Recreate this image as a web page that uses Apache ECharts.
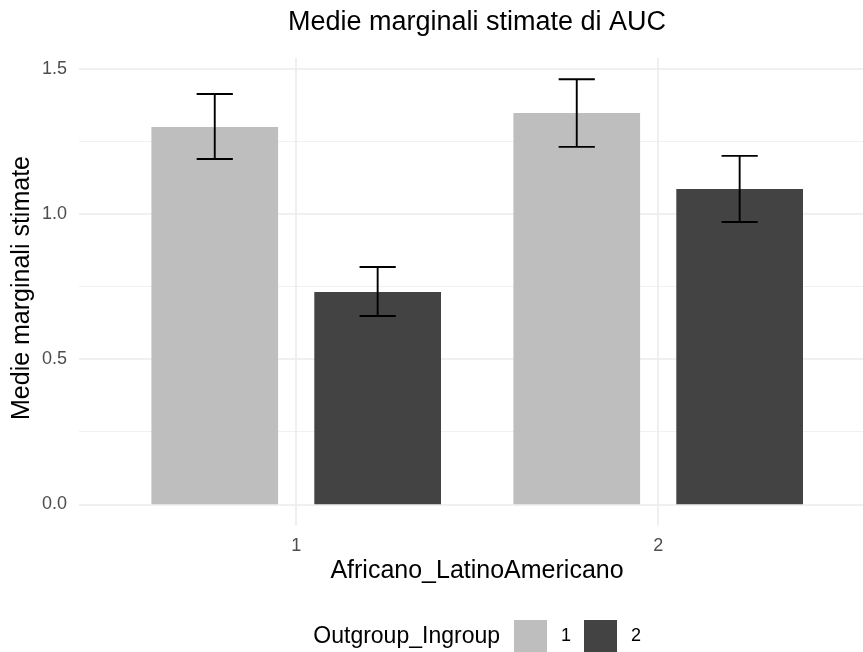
<!DOCTYPE html>
<html>
<head>
<meta charset="utf-8">
<script src="https://cdn.jsdelivr.net/npm/echarts@6/dist/echarts.min.js"></script>
<style>
  html, body { margin: 0; padding: 0; background: #ffffff; }
  #chart { width: 863px; height: 652px; }
</style>
</head>
<body>
<div id="chart"></div>
<script>
// Estimated marginal means of AUC by group, with confidence intervals
const groups = [1, 2];                       // Africano_LatinoAmericano levels
const levels = ['1', '2'];                   // Outgroup_Ingroup levels
const meansLevel1 = [1.300, 1.349];
const meansLevel2 = [0.732, 1.087];
const lowerLevel1 = [1.190, 1.232];
const lowerLevel2 = [0.649, 0.973];
const upperLevel1 = [1.414, 1.465];
const upperLevel2 = [0.818, 1.201];
const yMajorTicks = [0, 0.5, 1, 1.5];
const yMinorTicks = [0.25, 0.75, 1.25];

const FONT = 'Liberation Sans, Arial, Helvetica, sans-serif';
const fills = ['#BEBEBE', '#434343'];
const dodge = [-0.225, 0.225];
const barWidth = 0.35;
const capWidth = 0.1;

// panel geometry: discrete x range 0.4 .. 2.6, right part runs past the canvas edge
const gridLeft = 79;
const gridWidth = 784;
const unitPx = 362;
const xMin = 0.4;
const xMax = xMin + gridWidth / unitPx;

// y range padded like ggplot's default 5% expansion
const yHi = Math.max(...upperLevel1, ...upperLevel2);
const yPad = yHi * 0.05;

function rows(means, lo, hi) {
  return groups.map((g, i) => [g, means[i], lo[i], hi[i]]);
}

function makeSeries(name, idx, data) {
  return {
    name: name,
    type: 'custom',
    itemStyle: { color: fills[idx] },
    data: data,
    encode: { x: 0, y: [1, 2, 3] },
    renderItem: function (params, api) {
      const x = api.value(0) + dodge[idx];
      const v = api.value(1);
      const lo = api.value(2);
      const hi = api.value(3);
      const pTopLeft = api.coord([x - barWidth / 2, v]);
      const pBotRight = api.coord([x + barWidth / 2, 0]);
      const pHi = api.coord([x, hi]);
      const pLo = api.coord([x, lo]);
      const capL = api.coord([x - capWidth / 2, hi])[0];
      const capR = api.coord([x + capWidth / 2, hi])[0];
      const line = { stroke: '#000000', lineWidth: 1.9 };
      return {
        type: 'group',
        children: [
          {
            type: 'rect',
            shape: {
              x: pTopLeft[0], y: pTopLeft[1],
              width: pBotRight[0] - pTopLeft[0],
              height: pBotRight[1] - pTopLeft[1]
            },
            style: { fill: fills[idx] }
          },
          { type: 'line', shape: { x1: pHi[0], y1: pHi[1], x2: pLo[0], y2: pLo[1] }, style: line },
          { type: 'line', shape: { x1: capL, y1: pHi[1], x2: capR, y2: pHi[1] }, style: line },
          { type: 'line', shape: { x1: capL, y1: pLo[1], x2: capR, y2: pLo[1] }, style: line }
        ]
      };
    }
  };
}

const chart = echarts.init(document.getElementById('chart'), null, { renderer: 'canvas' });

chart.setOption({
  animation: false,
  backgroundColor: '#ffffff',
  textStyle: { fontFamily: FONT },
  grid: { left: gridLeft, top: 58, width: gridWidth, height: 467.5, containLabel: false },
  xAxis: {
    type: 'value',
    min: xMin,
    max: xMax,
    axisLine: { show: false },
    axisTick: { show: false, customValues: groups },
    axisLabel: {
      customValues: groups,
      color: '#4D4D4D',
      fontSize: 18,
      fontFamily: FONT,
      margin: 12,
      formatter: v => String(v)
    },
    splitLine: { show: true, lineStyle: { color: '#EBEBEB', width: 1.6 } }
  },
  yAxis: [
    {
      type: 'value',
      min: -yPad,
      max: yHi + yPad,
      axisLine: { show: false },
      axisTick: { show: false, customValues: yMajorTicks },
      axisLabel: {
        customValues: yMajorTicks,
        color: '#4D4D4D',
        fontSize: 18,
        fontFamily: FONT,
        margin: 12,
        formatter: v => v.toFixed(1)
      },
      splitLine: { show: true, lineStyle: { color: '#EBEBEB', width: 1.6 } }
    },
    {
      type: 'value',
      min: -yPad,
      max: yHi + yPad,
      position: 'left',
      axisLine: { show: false },
      axisTick: { show: false, customValues: yMinorTicks },
      axisLabel: { show: false, customValues: yMinorTicks },
      splitLine: { show: true, lineStyle: { color: '#EFEFEF', width: 0.9 } }
    }
  ],
  legend: {
    data: levels,
    left: 514,
    top: 620,
    padding: 0,
    icon: 'rect',
    itemWidth: 33,
    itemHeight: 32,
    itemGap: 13,
    textStyle: { fontSize: 18, color: '#000000', fontFamily: FONT, padding: [0, 0, 0, 9] },
    selectedMode: false
  },
  graphic: [
    {
      type: 'text', x: 477, y: 23,
      style: { text: 'Medie marginali stimate di AUC', fontSize: 27, fill: '#000000', fontFamily: FONT,
               align: 'center', verticalAlign: 'middle' }
    },
    {
      type: 'text', x: 477, y: 571,
      style: { text: 'Africano_LatinoAmericano', fontSize: 25, fill: '#000000', fontFamily: FONT,
               align: 'center', verticalAlign: 'middle' }
    },
    {
      type: 'text', x: 22, y: 288, rotation: Math.PI / 2,
      style: { text: 'Medie marginali stimate', fontSize: 25, fill: '#000000', fontFamily: FONT,
               align: 'center', verticalAlign: 'middle' }
    },
    {
      type: 'text', x: 500, y: 637,
      style: { text: 'Outgroup_Ingroup', fontSize: 23, fill: '#000000', fontFamily: FONT,
               align: 'right', verticalAlign: 'middle' }
    }
  ],
  series: [
    makeSeries(levels[0], 0, rows(meansLevel1, lowerLevel1, upperLevel1)),
    makeSeries(levels[1], 1, rows(meansLevel2, lowerLevel2, upperLevel2))
  ]
});
</script>
</body>
</html>
